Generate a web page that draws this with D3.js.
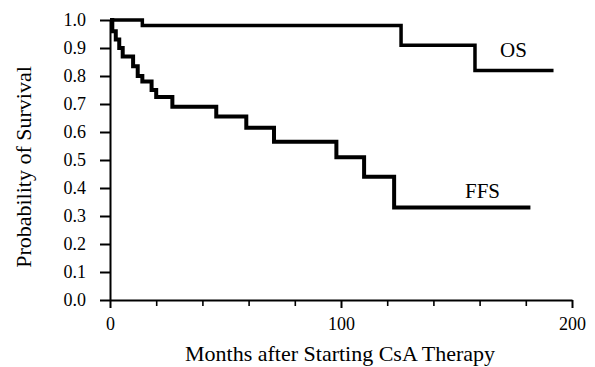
<!DOCTYPE html>
<html>
<head>
<meta charset="utf-8">
<script src="https://cdn.jsdelivr.net/npm/d3@7"></script>
<style>
  html, body { margin: 0; padding: 0; background: #fff; }
  svg { display: block; }
  .axis text { font-family: "Liberation Serif", "Times New Roman", serif; font-size: 18px; fill: #000; }
  .axis path, .axis line { stroke: #000; }
</style>
</head>
<body>
<div id="chart"></div>
<script>
// Kaplan-Meier curves (months, survival probability)
const osMonths = [0, 14, 126, 158, 192];
const osSurvival = [1.0, 0.98, 0.91, 0.82, 0.82];

const ffsMonths = [0, 1, 2.5, 4, 5.5, 10, 12, 14, 18, 20, 27, 46, 59, 71, 98, 110, 123, 182];
const ffsSurvival = [1.0, 0.96, 0.93, 0.90, 0.87, 0.835, 0.80, 0.78, 0.75, 0.725, 0.69, 0.655, 0.615, 0.565, 0.51, 0.44, 0.33, 0.33];

const xMajorTicks = [0, 100, 200];
const xMinorTicks = [20, 40, 60, 80, 120, 140, 160, 180];
const yTicks = [0, 0.1, 0.2, 0.3, 0.4, 0.5, 0.6, 0.7, 0.8, 0.9, 1.0];

const width = 595, height = 367;
const serif = '"Liberation Serif", "Times New Roman", serif';

const svg = d3.select("#chart").append("svg")
  .attr("width", width)
  .attr("height", height);

const x = d3.scaleLinear().domain([0, 200]).range([110, 572]);
const y = d3.scaleLinear().domain([0, 1]).range([300, 20]);

// y axis
svg.append("g")
  .attr("class", "axis")
  .attr("transform", `translate(${x(0)},0)`)
  .call(d3.axisLeft(y).tickValues(yTicks).tickFormat(d3.format(".1f"))
        .tickSize(10).tickSizeOuter(0).tickPadding(14))
  .call(g => g.select(".domain").attr("stroke-width", 2))
  .call(g => g.selectAll(".tick line").attr("stroke-width", 2));

// x axis: minor ticks then major ticks with labels
svg.append("g")
  .attr("class", "axis")
  .attr("transform", `translate(0,${y(0)})`)
  .call(d3.axisBottom(x).tickValues(xMinorTicks).tickFormat("")
        .tickSize(6).tickSizeOuter(0))
  .call(g => g.select(".domain").attr("stroke-width", 2))
  .call(g => g.selectAll(".tick line").attr("stroke-width", 1.6));

svg.append("g")
  .attr("class", "axis")
  .attr("transform", `translate(0,${y(0)})`)
  .call(d3.axisBottom(x).tickValues(xMajorTicks).tickFormat(d3.format("d"))
        .tickSize(8).tickSizeOuter(0).tickPadding(9))
  .call(g => g.select(".domain").remove())
  .call(g => g.selectAll(".tick line").attr("stroke-width", 2));

// step curves
const step = d3.line()
  .x(d => x(d[0]))
  .y(d => y(d[1]))
  .curve(d3.curveStepAfter);

svg.append("path")
  .datum(d3.zip(ffsMonths, ffsSurvival))
  .attr("d", step)
  .attr("fill", "none")
  .attr("stroke", "#000")
  .attr("stroke-width", 4);

svg.append("path")
  .datum(d3.zip(osMonths, osSurvival))
  .attr("d", step)
  .attr("fill", "none")
  .attr("stroke", "#000")
  .attr("stroke-width", 3.5);

// curve labels
svg.append("text")
  .attr("x", 500).attr("y", 57)
  .style("font-family", serif).style("font-size", "21px")
  .text("OS");

svg.append("text")
  .attr("x", 465).attr("y", 198)
  .style("font-family", serif).style("font-size", "21px")
  .text("FFS");

// axis titles
svg.append("text")
  .attr("x", 340).attr("y", 361)
  .attr("text-anchor", "middle")
  .style("font-family", serif).style("font-size", "22px")
  .text("Months after Starting CsA Therapy");

svg.append("text")
  .attr("transform", "translate(31,167) rotate(-90)")
  .attr("text-anchor", "middle")
  .style("font-family", serif).style("font-size", "22px")
  .text("Probability of Survival");
</script>
</body>
</html>
